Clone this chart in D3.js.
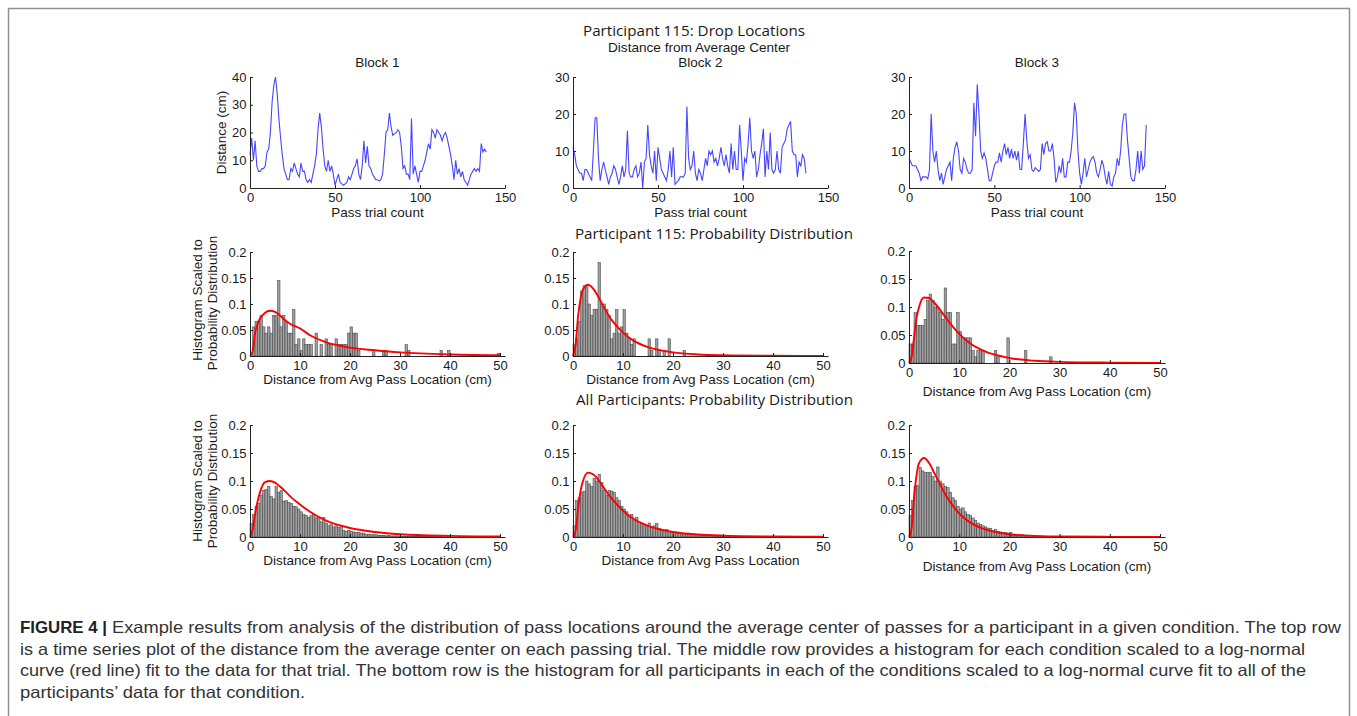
<!DOCTYPE html>
<html><head><meta charset="utf-8">
<script src="https://cdn.jsdelivr.net/npm/d3@7"></script>
<style>body{margin:0;background:#fff}svg{display:block}</style>
</head><body>
<svg id="c" width="1357" height="716"></svg>
<script>
// ---------------- DATA ----------------
// Top row: distance from average center per pass trial (cm)
const block1 = [12,18,10,17,8,6,6,7,7,8,13,14,20,31,37,40,34,25,18,12,7,5,3,3,7,6,9,7,5,4,9,6,6,3,2,3,2,5,8,12,21,27,22,14,8,6,10,6,8,5,1,3,5,2,1.5,1,1.5,2,4,3,5,7,8,10.5,5,3,8,17,9,15,8,7,5,4,3,3,2.5,3,5,12,20,21,27,22,19,19.5,20,21,20,15,7,8,5,5,3,25,5,8,5,2,6,6,8,10,13,16,14,21,20,18,21,20,19,17,19,20,18,15,12,8,3,10,5,7,4,6,3,2,1,3,5,6,7,6,7,6,16,13,14,13];
const block2 = [11,9,6,5,4,4,2,5,5,4,3,2,10,19,19,8,2,5,7,5,3,1,3,4,6,5,3,1,3,6,3,5,15.5,4,3,3,5,6,3,4,7,0,7,8,17,9,6,4,10,2,11,8,5,4,3,2,5,10,3,11,1,1.5,2,3,3,3,4,22,8,5,6,10,4,2,5,4,2,5,8,6,10,9,10,7,8,6,8,11,8,6,9,6,4,12,5,10,5,5,17,10,2,8,7,12,19,10,8,10,3,5,9,12,16,3,10,5,15,5,4,5,10,5,4,11,12,13,16,17,18,10,9,9,3,7,6,9,8,4];
const block3 = [8,7,6,6,6,5,4,2,3,3,3,2.5,5,20,10,7,10,5,2,4,1,3,5,6,7,2,8,11,12.5,10,5,4,8,7,5,4,4,5,23,14,28,20,10,8,9.5,8,5,2,2,4,6,7,7,9.5,7,10,12,9,11,8,10.5,8,10,7.5,10,5,5,12,20,13,8,9,5,4.5,5.5,5,4.5,5,12,9,12,12.5,10,10,12,8,1.5,3,6,4,8,3,3,7,7,10,15,23,20,10,4,1,4,8,3,5,7,8,8.5,7,4,3,5,7.5,6,3,1,4.5,1,0.5,3,4,8,6,10,17,20,20,13,8,3,2,2,5,10,4,10,5,6,17];
const trialTicks = [0,50,100,150];
const distTicks1 = [0,10,20,30,40];
const distTicks23 = [0,10,20,30];

// Histogram bins: width 0.5 cm starting at 0 (probability density)
const binWidth = 0.5;
const hist115b1 = [0,0.056,0.067,0.067,0.078,0.056,0.044,0.056,0.044,0.078,
 0.078,0.145,0.056,0.078,0.067,0.044,0.044,0.089,0.022,0.033,
 0.011,0.033,0.022,0.022,0.022,0,0.044,0,0.022,0,
 0.033,0.022,0.022,0,0.033,0.022,0.022,0.022,0.022,0.044,
 0.056,0.044,0.044,0.011,0,0,0,0,0,0.011,
 0,0,0,0.011,0.011,0,0,0,0,0,
 0,0,0.022,0.011,0,0,0,0,0,0,
 0,0,0,0,0,0,0.011,0,0,0.011,
 0,0,0,0,0,0,0,0,0,0,
 0,0,0,0,0,0,0,0,0,0.005];
const hist115b2 = [0.022,0.033,0.067,0.125,0.135,0.135,0.1,0.078,0.09,0.09,
 0.18,0.1,0.1,0.09,0.078,0.033,0.044,0.089,0.044,0.056,
 0.089,0.044,0.033,0.022,0.033,0,0,0,0,0,
 0.033,0.011,0,0.033,0.011,0,0.011,0,0.033,0,
 0,0,0,0,0.011];
const hist115b3 = [0.034,0.034,0.09,0.067,0.067,0.067,0.078,0.112,0.123,0.112,
 0.1,0.1,0.09,0.078,0.134,0.09,0.09,0.034,0.034,0.09,
 0.056,0.045,0.045,0.045,0.045,0.022,0.011,0.022,0.022,0.022,
 0,0,0,0,0.022,0.011,0,0,0,0.045,
 0,0,0,0,0,0,0.022,0,0,0,
 0,0,0,0,0,0,0.011];
const histAllb1 = [0.024,0.04,0.055,0.06,0.075,0.083,0.085,0.09,0.072,0.068,
 0.09,0.08,0.083,0.064,0.065,0.062,0.06,0.055,0.054,0.05,
 0.045,0.04,0.038,0.035,0.038,0.04,0.034,0.035,0.027,0.035,
 0.025,0.02,0.022,0.018,0.02,0.017,0.018,0.012,0.01,0.012,
 0.01,0.009,0.008,0.008,0.007,0.007,0.005,0.005,0.004,0.004,
 0.004,0.003,0.003,0.003,0.002,0.003,0.002,0.002,0.002,0.002,
 0.0015,0.0015,0.001,0.0015,0.001,0.001,0.001,0.001,0.001,0.0008,
 0.0008,0.0006,0.0008,0.0006,0.0005,0.0005,0.0005,0.0004,0.0004,0.0005];
const histAllb2 = [0.02,0.065,0.07,0.08,0.082,0.1,0.095,0.09,0.105,0.1,
 0.112,0.097,0.083,0.075,0.083,0.082,0.08,0.07,0.065,0.055,
 0.05,0.045,0.037,0.04,0.03,0.035,0.027,0.025,0.023,0.02,
 0.025,0.018,0.02,0.024,0.015,0.012,0.012,0.013,0.009,0.008,
 0.008,0.007,0.006,0.006,0.005,0.005,0.004,0.004,0.005,0.005,
 0.004,0.003,0.003,0.003,0.002,0.003,0.002,0.002,0.002,0.0015,
 0.0015,0.001,0.001,0.001,0.001,0.001,0.0008,0.0008,0.0006,0.0006];
const histAllb3 = [0.038,0.065,0.09,0.092,0.124,0.118,0.115,0.115,0.115,0.108,
 0.1,0.125,0.1,0.095,0.09,0.088,0.08,0.07,0.065,0.055,
 0.05,0.052,0.045,0.04,0.038,0.034,0.03,0.025,0.022,0.02,
 0.018,0.016,0.015,0.012,0.013,0.01,0.009,0.008,0.008,0.007,
 0.008,0.005,0.005,0.004,0.004,0.004,0.003,0.003,0.003,0.002,
 0.002,0.002,0.002,0.0015,0.0015,0.001,0.001,0.001,0.001,0.001];

// Log-normal fit curves, read at these distances (cm)
const fitX = [0,0.5,1,1.5,2,3,4,5,6,7,8,10,12,15,20,25,30,40,50];
const fit115b1 = [0,0.008,0.043,0.061,0.072,0.083,0.087,0.085,0.078,0.069,0.062,0.053,0.04,0.027,0.016,0.011,0.007,0.003,0.0015];
const fit115b2 = [0,0.02,0.075,0.11,0.128,0.137,0.13,0.115,0.097,0.08,0.066,0.045,0.03,0.017,0.007,0.003,0.0015,0.0005,0.0002];
const fit115b3 = [0,0.01,0.045,0.08,0.1,0.117,0.116,0.108,0.097,0.085,0.073,0.052,0.036,0.021,0.009,0.004,0.002,0.0007,0.0003];
const fitAllb1 = [0,0.012,0.04,0.063,0.08,0.098,0.1,0.097,0.09,0.082,0.073,0.058,0.045,0.03,0.016,0.009,0.005,0.002,0.001];
const fitAllb2 = [0,0.01,0.05,0.082,0.1,0.115,0.112,0.103,0.09,0.077,0.066,0.047,0.033,0.02,0.009,0.0045,0.0025,0.001,0.0004];
const fitAllb3 = [0,0.015,0.07,0.11,0.132,0.141,0.132,0.115,0.097,0.08,0.065,0.042,0.027,0.014,0.005,0.002,0.001,0.0003,0.0001];
const distXTicks = [0,10,20,30,40,50];
const probTicks = [0,0.05,0.1,0.15,0.2];

// ---------------- DRAW ----------------
const svg = d3.select("#c");
const AX = "'Liberation Sans', Arial, Helvetica, sans-serif";
const TF = "'Open Sans', 'Noto Sans', sans-serif";

svg.append("rect").attr("x",8.5).attr("y",8.5).attr("width",1341).attr("height",730)
  .attr("fill","none").attr("stroke","#8f8f8f").attr("stroke-width",1.5);

const cols = [{x:250,w:255},{x:573,w:255},{x:909,w:256}];

function axes(g, xs, ys, xt, yt, fmt){
  const gx = g.append("g").attr("transform",`translate(0,${ys.range()[0]})`)
    .call(d3.axisBottom(xs).tickValues(xt).tickSizeInner(-3).tickSizeOuter(0).tickPadding(5.2).tickFormat(d3.format("~g")));
  const gy = g.append("g").attr("transform",`translate(${xs.range()[0]},0)`)
    .call(d3.axisLeft(ys).tickValues(yt).tickSizeInner(-3).tickSizeOuter(0).tickPadding(3.5).tickFormat(fmt));
  [gx,gy].forEach(a=>{
    a.selectAll("text").attr("font-family",AX).attr("font-size",13).attr("fill","#1a1a1a");
    a.selectAll("path,line").attr("stroke","#222").attr("stroke-width",1);
  });
}

function timePanel(col, y0, y1, data, yMax, yt, title){
  const g = svg.append("g");
  const xs = d3.scaleLinear().domain([0,150]).range([col.x,col.x+col.w]);
  const ys = d3.scaleLinear().domain([0,yMax]).range([y1,y0]);
  g.append("path").datum(data)
    .attr("d", d3.line().x((d,i)=>xs(i)).y(d=>ys(d)))
    .attr("fill","none").attr("stroke","#4646ff").attr("stroke-width",1.1);
  axes(g, xs, ys, trialTicks, yt, d3.format("d"));
  g.append("text").attr("x",col.x+col.w/2).attr("y",216.5).attr("text-anchor","middle")
    .attr("font-family",AX).attr("font-size",13.5).attr("fill","#1a1a1a").text("Pass trial count");
  if(title) g.append("text").attr("x",col.x+col.w/2).attr("y",67).attr("text-anchor","middle")
    .attr("font-family",AX).attr("font-size",13.5).attr("fill","#1a1a1a").text(title);
}

function histPanel(col, y0, y1, hist, fit, xlabel, xlabelY){
  const g = svg.append("g");
  const xs = d3.scaleLinear().domain([0,51]).range([col.x,col.x+col.w]);
  const ys = d3.scaleLinear().domain([0,0.2]).range([y1,y0]);
  const bw = xs(binWidth)-xs(0);
  g.selectAll("rect.bar").data(hist.map((v,i)=>({i,v})).filter(d=>d.v>0)).join("rect")
    .attr("class","bar")
    .attr("x",d=>xs(d.i*binWidth)).attr("width",bw)
    .attr("y",d=>ys(d.v)).attr("height",d=>ys(0)-ys(d.v))
    .attr("fill","#a0a0a0").attr("stroke","#383838").attr("stroke-width",0.5);
  g.append("path").datum(fitX.map((x,i)=>[x,fit[i]]))
    .attr("d", d3.line().x(d=>xs(d[0])).y(d=>ys(d[1])).curve(d3.curveMonotoneX))
    .attr("fill","none").attr("stroke","#ff0000").attr("stroke-width",1.9);
  axes(g, xs, ys, distXTicks, probTicks, d3.format("~g"));
  g.append("text").attr("x",col.x+col.w/2).attr("y",xlabelY).attr("text-anchor","middle")
    .attr("font-family",AX).attr("font-size",13.5).attr("fill","#1a1a1a").text(xlabel);
}

// Top row
timePanel(cols[0], 77, 188, block1, 40, distTicks1, "Block 1");
timePanel(cols[1], 77, 188, block2, 30, distTicks23, "Block 2");
timePanel(cols[2], 77, 188, block3, 30, distTicks23, "Block 3");

// Middle row
const lblCm = "Distance from Avg Pass Location (cm)";
histPanel(cols[0], 252, 356, hist115b1, fit115b1, lblCm, 384);
histPanel(cols[1], 252, 356, hist115b2, fit115b2, lblCm, 384);
histPanel(cols[2], 251, 363, hist115b3, fit115b3, lblCm, 396);

// Bottom row
histPanel(cols[0], 425, 537, histAllb1, fitAllb1, lblCm, 565);
histPanel(cols[1], 425, 537, histAllb2, fitAllb2, "Distance from Avg Pass Location", 565);
histPanel(cols[2], 425, 537, histAllb3, fitAllb3, lblCm, 571);

// Y labels
function vlabel(x, y, txt){
  svg.append("text").attr("transform",`translate(${x},${y}) rotate(-90)`).attr("text-anchor","middle")
    .attr("font-family",AX).attr("font-size",13.5).attr("fill","#1a1a1a").text(txt);
}
vlabel(226, 132.5, "Distance (cm)");
vlabel(202, 300, "Histogram Scaled to");
vlabel(216.5, 303, "Probability Distribution");
vlabel(202, 481, "Histogram Scaled to");
vlabel(216.5, 481, "Probability Distribution");

// Titles
function title(x, y, txt, font, size, len){
  const t = svg.append("text").attr("x",x).attr("y",y).attr("text-anchor","middle")
    .attr("font-family",font).attr("font-size",size).attr("fill","#1a1a1a").text(txt);
  if(len) t.attr("textLength",len).attr("lengthAdjust","spacingAndGlyphs");
}
title(694, 35.5, "Participant 115: Drop Locations", TF, 14.5, 222);
title(699, 51.5, "Distance from Average Center", AX, 13.5, 182);
title(714, 239, "Participant 115: Probability Distribution", TF, 14.5, 278);
title(714.5, 405, "All Participants: Probability Distribution", TF, 14.5, 277);

// Caption
const capLines = [
  "Example results from analysis of the distribution of pass locations around the average center of passes for a participant in a given condition. The top row",
  "is a time series plot of the distance from the average center on each passing trial. The middle row provides a histogram for each condition scaled to a log-normal",
  "curve (red line) fit to the data for that trial. The bottom row is the histogram for all participants in each of the conditions scaled to a log-normal curve fit to all of the",
  "participants’ data for that condition."
];
const capEnds = [1341, 1305, 1306, 305];
const capBase = [633, 654.5, 676, 697.5];
const CF = "'Liberation Sans Narrow', 'Liberation Sans', Arial, sans-serif";
const bold = svg.append("text").attr("x",20).attr("y",capBase[0]).attr("font-family",CF)
  .attr("font-size",16.5).attr("font-weight","bold").attr("fill","#222").text("FIGURE 4 |");
bold.attr("textLength",87).attr("lengthAdjust","spacingAndGlyphs");
capLines.forEach((s,i)=>{
  const x0 = i===0 ? 112 : 20;
  svg.append("text").attr("x",x0).attr("y",capBase[i]).attr("font-family",CF)
    .attr("font-size",16.5).attr("fill","#333").text(s)
    .attr("textLength",capEnds[i]-x0).attr("lengthAdjust","spacingAndGlyphs");
});
</script>
</body></html>
